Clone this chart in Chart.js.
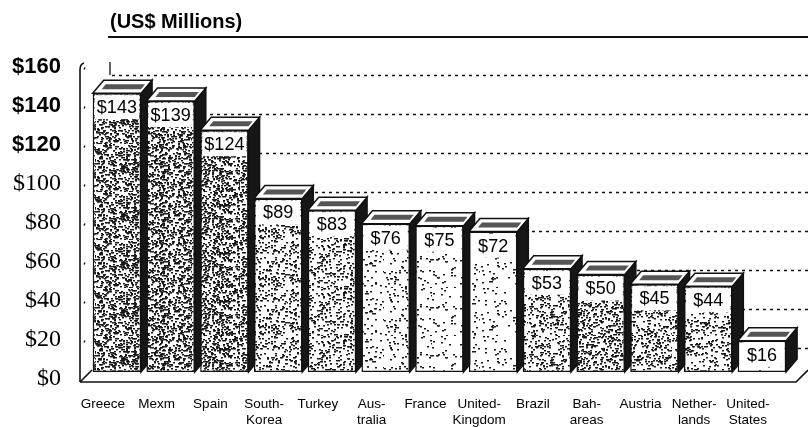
<!DOCTYPE html>
<html>
<head>
<meta charset="utf-8">
<script src="https://cdn.jsdelivr.net/npm/chart.js@4.4.1/dist/chart.umd.min.js"></script>
<style>
  html, body { margin: 0; padding: 0; background: #fff; }
  #wrap { width: 808px; height: 427px; position: relative; }
</style>
</head>
<body>
<div id="wrap"><canvas id="chart" width="808" height="427"></canvas></div>
<script>
// Chart data
const categories = ['Greece', 'Mexm', 'Spain', ['South-', 'Korea'], 'Turkey', ['Aus-', 'tralia'],
  'France', ['United-', 'Kingdom'], 'Brazil', ['Bah-', 'areas'], 'Austria', ['Nether-', 'lands'], ['United-', 'States']];
const values = [143, 139, 124, 89, 83, 76, 75, 72, 53, 50, 45, 44, 16];
const yTicks = [0, 20, 40, 60, 80, 100, 120, 140, 160];
const titleText = '(US$ Millions)';

// look of the scanned print
const stippleDensity = [0.6, 0.6, 0.6, 0.3, 0.3, 0.12, 0.08, 0.08, 0.3, 0.45, 0.35, 0.3, 0.02];
const DX = 11, DY = -13;     // 3D depth offset
const GRID_SHIFT = 15;       // back wall grid sits lower than the front scale

const canvas = document.getElementById('chart');
const ctx = canvas.getContext('2d');

function makeStipple(density, seed) {
  const c = document.createElement('canvas');
  c.width = 48; c.height = 48;
  const g = c.getContext('2d');
  g.fillStyle = '#fff';
  g.fillRect(0, 0, 48, 48);
  g.fillStyle = '#1a1a1a';
  let s = seed >>> 0;
  const n = Math.round(48 * 48 * density / 3);
  for (let i = 0; i < n; i++) {
    s = (Math.imul(s, 1103515245) + 12345) >>> 0;
    const x = (s >>> 16) % 48;
    s = (Math.imul(s, 1103515245) + 12345) >>> 0;
    const y = (s >>> 16) % 48;
    g.fillRect(x, y, 2, 1.5);
  }
  return ctx.createPattern(c, 'repeat');
}

const patterns = stippleDensity.map((d, i) => makeStipple(d, 777 + i * 31));

// Floor, walls, dotted grid and the side/top faces of each bar
const backdropPlugin = {
  id: 'backdrop',
  beforeDatasetsDraw(chart) {
    const c = chart.ctx;
    const yScale = chart.scales.y;
    const area = chart.chartArea;
    c.save();
    c.strokeStyle = '#111';

    // floor
    c.lineWidth = 1.6;
    c.beginPath();
    c.moveTo(80, area.bottom + 10);
    c.lineTo(796, area.bottom + 10);
    c.lineTo(808, area.bottom - 2);
    c.moveTo(80, area.bottom + 10);
    c.lineTo(92, area.bottom - 2);
    c.stroke();

    // left wall edge
    c.beginPath();
    c.moveTo(80, area.bottom + 10);
    c.lineTo(80, area.top + 10);
    c.quadraticCurveTo(80, area.top + 4, 84, area.top + 3);
    c.stroke();

    // back wall corner
    c.lineWidth = 1.3;
    c.beginPath();
    c.moveTo(110, area.top + 2);
    c.lineTo(110, yScale.getPixelForValue(160) + GRID_SHIFT);
    c.stroke();

    // dotted grid on the back wall
    c.setLineDash([3, 4]);
    c.lineWidth = 1.4;
    yTicks.filter(v => v > 0).forEach(v => {
      const y = Math.round(yScale.getPixelForValue(v) + GRID_SHIFT) + 0.5;
      c.beginPath();
      c.moveTo(112, y);
      c.lineTo(808, y);
      c.stroke();
      // dashes on the left wall
      c.beginPath();
      c.moveTo(84, y - 6);
      c.lineTo(85, y - 8);
      c.stroke();
    });
    c.setLineDash([]);

    // side and top faces
    const meta = chart.getDatasetMeta(0);
    meta.data.forEach(bar => {
      const left = bar.x - bar.width / 2;
      const right = bar.x + bar.width / 2;
      const top = bar.y;
      const base = bar.base;

      c.lineWidth = 1.5;
      c.fillStyle = '#161616';
      c.beginPath();
      c.moveTo(right, top);
      c.lineTo(right + DX, top + DY);
      c.lineTo(right + DX, base + DY);
      c.lineTo(right, base);
      c.closePath();
      c.fill();
      c.stroke();

      c.fillStyle = '#fff';
      c.beginPath();
      c.moveTo(left, top);
      c.lineTo(left + DX, top + DY);
      c.lineTo(right + DX, top + DY);
      c.lineTo(right, top);
      c.closePath();
      c.fill();
      c.stroke();

      // scribbled shading on the lid
      c.fillStyle = '#555';
      c.beginPath();
      c.moveTo(left + 9, top - 4);
      c.lineTo(left + 13, top - 9);
      c.lineTo(right + 4, top - 9);
      c.lineTo(right, top - 4);
      c.closePath();
      c.fill();
    });
    c.restore();
  },
  afterDatasetsDraw(chart) {
    const c = chart.ctx;
    const meta = chart.getDatasetMeta(0);
    c.save();
    meta.data.forEach((bar, i) => {
      const left = bar.x - bar.width / 2;
      c.fillStyle = '#fff';
      c.fillRect(left + 2, bar.y + 2, bar.width - 4, 24);
      c.fillStyle = '#000';
      c.font = '18px "Liberation Sans", Arial, sans-serif';
      c.textAlign = 'center';
      c.textBaseline = 'middle';
      c.fillText('$' + values[i], bar.x, bar.y + 15);
    });
    c.restore();
  },
  afterDraw(chart) {
    const c = chart.ctx;
    c.save();
    c.fillStyle = '#000';
    c.font = 'bold 20px "Liberation Sans", Arial, sans-serif';
    c.textBaseline = 'alphabetic';
    c.textAlign = 'left';
    c.fillText(titleText, 110, 28);
    c.strokeStyle = '#111';
    c.lineWidth = 2;
    c.beginPath();
    c.moveTo(108, 37);
    c.lineTo(808, 37);
    c.stroke();
    c.restore();
  }
};

new Chart(ctx, {
  type: 'bar',
  data: {
    labels: categories,
    datasets: [{
      data: values,
      backgroundColor: context => patterns[context.dataIndex],
      borderColor: '#111',
      borderWidth: 1.5,
      borderSkipped: false,
      categoryPercentage: 1,
      barPercentage: 0.9
    }]
  },
  options: {
    responsive: false,
    animation: false,
    devicePixelRatio: 1,
    layout: { padding: { top: 60, right: 9, left: 0, bottom: 0 } },
    plugins: {
      legend: { display: false },
      tooltip: { enabled: false }
    },
    scales: {
      x: {
        grid: { display: false, drawTicks: false },
        border: { display: false },
        ticks: {
          color: '#000',
          font: { family: '"Liberation Sans", Arial, sans-serif', size: 13.5 },
          padding: 24,
          labelOffset: -14,
          maxRotation: 0,
          autoSkip: false
        },
        afterFit(scale) { scale.height = 55; }
      },
      y: {
        min: 0,
        max: 160,
        grid: { display: false, drawTicks: false },
        border: { display: false },
        ticks: {
          stepSize: 20,
          color: '#000',
          padding: 29,
          labelOffset: 7,
          callback: v => '$' + v,
          font: context => (context.tick && context.tick.value >= 120)
            ? { family: '"Liberation Sans", Arial, sans-serif', size: 22, weight: 'bold' }
            : { family: '"Liberation Serif", "Times New Roman", serif', size: 24 }
        },
        afterFit(scale) { scale.width = 90; }
      }
    }
  },
  plugins: [backdropPlugin]
});
</script>
</body>
</html>
